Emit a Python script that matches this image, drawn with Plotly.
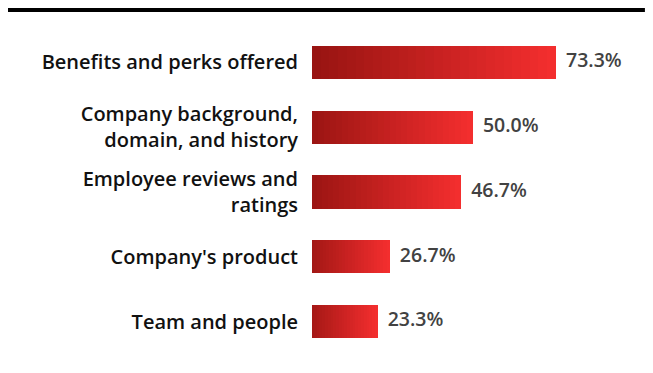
import plotly.graph_objects as go

# data
categories = [
    "Benefits and perks offered",
    "Company background,<br>domain, and history",
    "Employee reviews and<br>ratings",
    "Company's product",
    "Team and people",
]
values = [73.3, 50.0, 46.7, 26.7, 23.3]
value_labels = ["73.3%", "50.0%", "46.7%", "26.7%", "23.3%"]

dark_red = (146, 18, 16)
bright_red = (243, 46, 46)
n_steps = 30


def blend(t):
    r, g, b = (round(a + (c - a) * t) for a, c in zip(dark_red, bright_red))
    return f"rgb({r},{g},{b})"


fig = go.Figure()

# each bar is drawn as a stack of thin slices to fake the left-to-right gradient
for i in range(n_steps):
    fig.add_trace(go.Bar(
        y=categories,
        x=[v / n_steps for v in values],
        orientation="h",
        marker=dict(color=blend(i / (n_steps - 1)), line=dict(width=0)),
        hoverinfo="skip",
        showlegend=False,
    ))

fig.add_trace(go.Scatter(
    y=categories,
    x=values,
    mode="text",
    text=["  " + t for t in value_labels],
    textposition="middle right",
    textfont=dict(family="Open Sans", size=19.5, color="#424242", weight=600),
    cliponaxis=False,
    showlegend=False,
    hoverinfo="skip",
))

# the page body has an 8px margin, so the figure is sized 8px smaller
fig.update_layout(
    width=645,
    height=365,
    barmode="stack",
    bargap=0.49,
    plot_bgcolor="white",
    paper_bgcolor="white",
    margin=dict(l=304, r=13, t=22, b=19, autoexpand=False),
    font=dict(family="Open Sans", size=19, color="#111111"),
    shapes=[
        dict(type="line", xref="paper", yref="paper",
             x0=-0.927, x1=1.015, y0=1.0617, y1=1.0617,
             line=dict(color="black", width=4)),
        dict(type="rect", xref="paper", yref="paper",
             x0=1.030, x1=1.045, y0=-0.1, y1=1.1,
             fillcolor="#f2f2f2", line=dict(width=0)),
    ],
)

fig.update_xaxes(range=[4.9, 96.9], visible=False, showgrid=False, zeroline=False)
fig.update_yaxes(
    autorange="reversed",
    showgrid=False,
    zeroline=False,
    showline=False,
    ticks="",
    ticklabelstandoff=13,
    tickfont=dict(family="Open Sans", size=20, color="#111111", weight=600),
)

fig.write_html("out.html")
